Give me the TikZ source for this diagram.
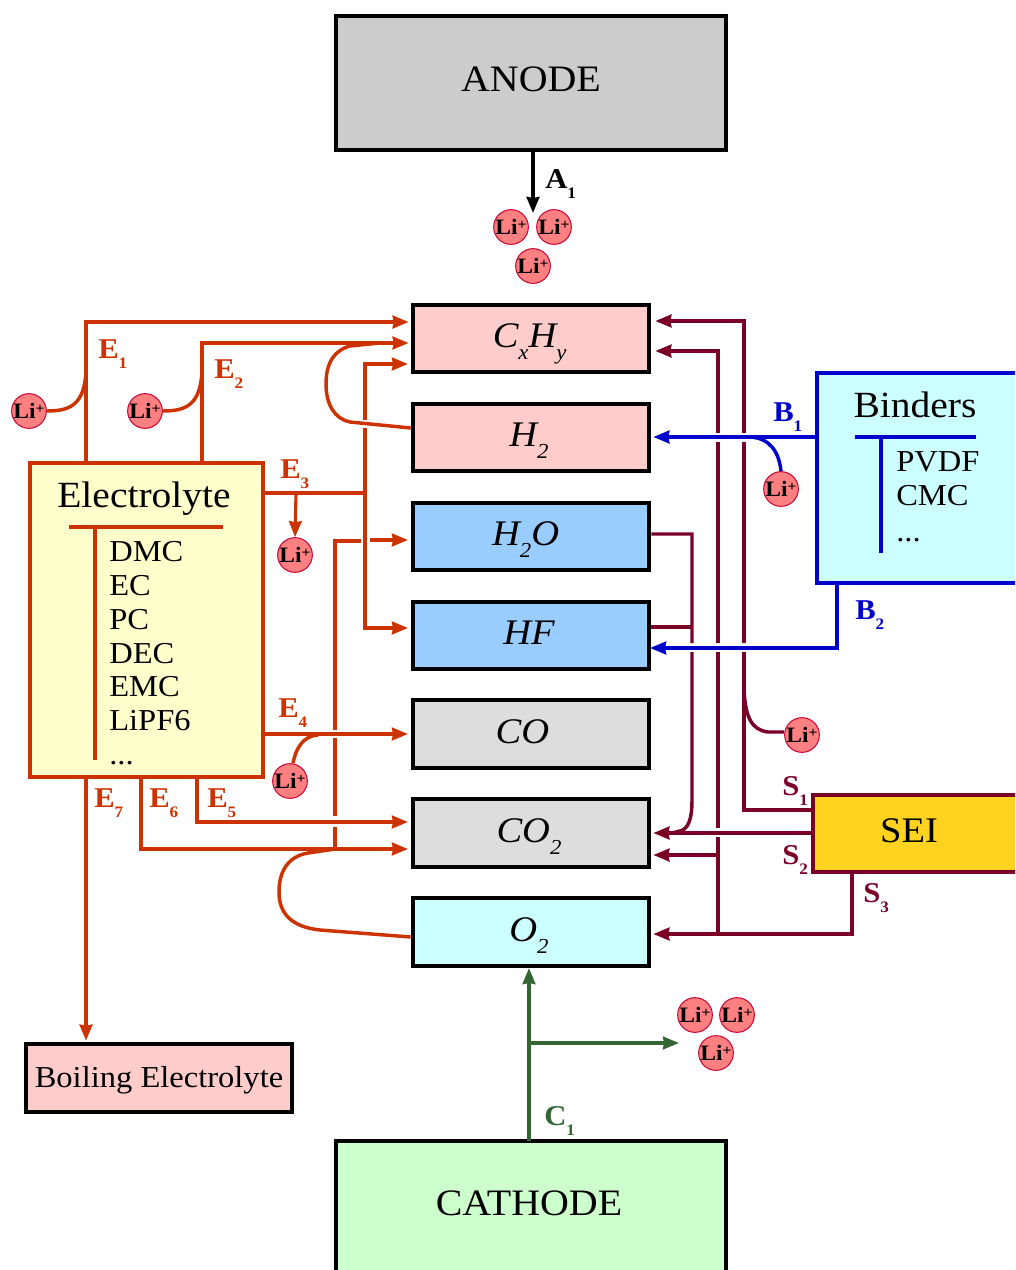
\documentclass[tikz,border=0pt]{standalone}
\usepackage{fontspec}
\setmainfont[FakeStretch=1.07]{Liberation Serif}
\usetikzlibrary{arrows.meta}
\definecolor{eorange}{HTML}{CC3300}
\definecolor{smaroon}{HTML}{7B0028}
\definecolor{bblue}{HTML}{0000CC}
\definecolor{cgreen}{HTML}{336633}
\definecolor{boxgrey}{HTML}{CCCCCC}
\definecolor{boxcath}{HTML}{CCFFCC}
\definecolor{boxpink}{HTML}{FFCCCC}
\definecolor{boxblue}{HTML}{99CCFF}
\definecolor{boxlight}{HTML}{DDDDDD}
\definecolor{boxcyan}{HTML}{CCFFFF}
\definecolor{boxyellow}{HTML}{FFFFCC}
\definecolor{boxsei}{HTML}{FFD320}
\definecolor{lifill}{HTML}{FF8080}
\definecolor{liedge}{HTML}{CC0033}
\newcommand{\lab}[2]{#1\raisebox{-7.5pt}{\fontsize{12pt}{12pt}\selectfont #2}}
\newcommand{\sbt}[1]{\raisebox{-9pt}{\fontsize{16pt}{16pt}\selectfont #1}}
\newcommand{\litext}{Li\raisebox{3.5pt}{\fontsize{11pt}{11pt}\selectfont +}}
\tikzset{
  x=0.75pt, y=-0.75pt,
  bigbox/.style={draw=black, line width=3pt, rectangle, inner sep=0pt, text height=14pt, text depth=0pt, font=\fontsize{28pt}{30pt}\selectfont},
  spec/.style={bigbox, minimum width=177.5pt, minimum height=50.5pt, font=\itshape\fontsize{27pt}{30pt}\selectfont, text height=14pt},
  libox/.style={circle, draw=liedge, line width=0.75pt, fill=lifill, minimum size=25.5pt, inner sep=0pt, font=\bfseries\fontsize{16.5pt}{17pt}\selectfont},
  words/.style={inner sep=0pt, anchor=base, font=\fontsize{27.7pt}{30pt}\selectfont},
  items/.style={inner sep=0pt, anchor=north west, align=left, font=\fontsize{22.8pt}{25.4pt}\selectfont},
  tag/.style={inner sep=0pt, anchor=base west, font=\bfseries\fontsize{21.5pt}{23pt}\selectfont},
  tip/.style={-{Stealth[length=12pt,width=9.5pt,inset=0.8pt]}},
  wire/.style={line width=2.6pt, line join=miter},
  thinwire/.style={line width=2.35pt},
  wiree/.style={wire, draw=eorange},
  wires/.style={wire, draw=smaroon},
  wireb/.style={wire, draw=bblue},
  wirec/.style={wire, draw=cgreen},
  wirek/.style={wire, draw=black},
  rule/.style={line width=2.3pt},
}
\begin{document}
\begin{tikzpicture}
\useasboundingbox (0,0) rectangle (1015,1270);
\clip (0,0) rectangle (1015,1270);
\fill[white] (0,0) rectangle (1015,1270);

% ---- main boxes
\node[bigbox, fill=boxgrey, minimum width=293pt, minimum height=100.5pt] (anode) at (531,83) {\raisebox{1pt}{ANODE}};
\node[bigbox, fill=boxcath, minimum width=293pt, minimum height=105pt] (cathode) at (531,1211) {\kern-1.5pt\raisebox{4pt}{CATHODE}\kern1.5pt};
\node[spec, fill=boxpink] (cxhy) at (531,338.5) {\kern-1pt C\sbt{x}H\sbt{y}\kern1pt};
\node[spec, fill=boxpink] (htwo) at (531,437.5) {\kern-1.5pt H\sbt{2}\kern1.5pt};
\node[spec, fill=boxblue] (water) at (531,536.5) {\kern-4pt H\sbt{2}O\kern4pt};
\node[spec, fill=boxblue] (hf) at (531,635.5) {\kern-1.5pt HF\kern1.5pt};
\node[spec, fill=boxlight] (co) at (531,734) {\kern-6.5pt CO\kern6.5pt};
\node[spec, fill=boxlight] (cotwo) at (531,833) {\kern-1.5pt CO\sbt{2}\kern1.5pt};
\node[spec, fill=boxcyan] (otwo) at (531,932) {\kern-1.5pt O\sbt{2}\kern1.5pt};
\node[bigbox, fill=boxpink, minimum width=200pt, minimum height=51pt, font=\fontsize{22.8pt}{25pt}\selectfont] (boil) at (159,1078) {Boiling Electrolyte};

% ---- electrolyte
\node[rectangle, draw=eorange, line width=3pt, fill=boxyellow, minimum width=174.5pt, minimum height=235.5pt, inner sep=0pt] (elec) at (146.5,620) {};
\node[words] (electitle) at (144,507) {Electrolyte};
\coordinate (elecrule) at (95,527);
\draw[eorange, rule] (69,527) -- (223,527);
\draw[eorange, rule] (elecrule) -- (95,760);
\node[items] (eleclist) at (109,541) {DMC\\EC\\PC\\DEC\\EMC\\LiPF6\\...};

% ---- binders
\node[rectangle, draw=bblue, line width=3pt, fill=boxcyan, minimum width=160pt, minimum height=157.5pt, inner sep=0pt] (bind) at (923.5,478) {};
\node[words] (bindtitle) at (915,417) {Binders};
\coordinate (bindrule) at (881,437);
\draw[bblue, rule] (855,437) -- (976,437);
\draw[bblue, rule] (bindrule) -- (881,553);
\node[items] (bindlist) at (896,451) {PVDF\\CMC\\[2pt]...};

% ---- SEI
\node[rectangle, draw=smaroon, line width=3pt, fill=boxsei, minimum width=163pt, minimum height=58pt, inner sep=0pt, text height=14pt, text depth=0pt, font=\fontsize{27pt}{30pt}\selectfont] (sei) at (921.5,833.5) {\kern-9.4pt SEI\kern9.4pt};

% ---- Li+ ions
\node[libox] (lia) at (511,227) {\litext};
\node[libox] (lib) at (554,227) {\litext};
\node[libox] (lic) at (533,266) {\litext};
\node[libox] (lie) at (29,411) {\litext};
\node[libox] (lif) at (145,411) {\litext};
\node[libox] (lig) at (295,555) {\litext};
\node[libox] (lih) at (290,781) {\litext};
\node[libox] (lii) at (781,489) {\litext};
\node[libox] (lij) at (802,735) {\litext};
\node[libox] (lik) at (695,1015) {\litext};
\node[libox] (lil) at (737,1015) {\litext};
\node[libox] (lim) at (716,1053) {\litext};

% ---- junction coordinates
\coordinate (eone) at (86,322);
\coordinate (etwo) at (202,343);
\coordinate (ethree) at (365,493);
\coordinate (ethreeup) at (365,364);
\coordinate (ethreedown) at (365,628);
\coordinate (ethreeli) at (296,493);
\coordinate (efour) at (263,734);
\coordinate (efive) at (197,822);
\coordinate (esix) at (141,849);
\coordinate (ewater) at (335,541);
\coordinate (ewaterbot) at (335,849);
\coordinate (ewaterin) at (370,540);
\coordinate (sone) at (744,321);
\coordinate (sonebot) at (744,810);
\coordinate (smid) at (718,351);
\coordinate (smidbot) at (718,934);
\coordinate (sthree) at (852,934);
\coordinate (swater) at (692,534);
\coordinate (bone) at (817,437);
\coordinate (btwo) at (837,648);
\coordinate (cjoin) at (529,1043);
\coordinate (aout) at (533,150);
\coordinate (atip) at (533,213);
\coordinate (cout) at (529,1141);
\coordinate (ctip) at (529,968);
\coordinate (cbranch) at (679,1043);
\coordinate (esevenout) at (86,777);
\coordinate (sfork) at (718,855);
\coordinate (stwo) at (813,833);

% ---- A1
\draw[wirek, tip] (aout) -- (atip);

% ---- electrolyte connectors
\draw[wiree, tip, shorten >=1.5pt] (eone |- elec.north) -- (eone) -- (eone -| cxhy.west);
\draw[wiree, tip, shorten >=1.5pt] (etwo |- elec.north) -- (etwo) -- (etwo -| cxhy.west);
\draw[wiree] (lie.east) .. controls (70,411) and (84,405) .. (86,372);
\draw[wiree] (lif.east) .. controls (186,411) and (200,405) .. (202,372);
\draw[wiree] (htwo.west |- 0,428) -- (350,422) .. controls (335,419) and (326,405) .. (326,384) .. controls (326,362) and (335,350) .. (350,346) -- (380,343);
\draw[wiree, thinwire] (ethree -| elec.east) -- (ethree);
\draw[wiree] (ethree) -- (365,428);
\draw[wiree, tip, shorten >=2pt] (365,420) -- (ethreeup) -- (ethreeup -| cxhy.west);
\draw[wiree, tip, shorten >=2pt] (ethree) -- (ethreedown) -- (ethreedown -| hf.west);
\draw[wiree, thinwire, tip] (ethreeli) -- (lig.north);
\draw[wiree, tip, shorten >=2pt] (efour) -- (efour -| co.west);
\draw[wiree] (lih.north) ++(3,0) .. controls (296,748) and (303,736) .. (318,735);
\draw[wiree, tip, shorten >=2pt] (efive |- elec.south) -- (efive) -- (efive -| cotwo.west);
\draw[wiree, tip, shorten >=2pt] (esix |- elec.south) -- (esix) -- (esix -| cotwo.west);
\draw[wiree, tip, shorten >=1pt] (esevenout) -- (esevenout |- boil.north);
\draw[wiree] (ewaterbot) -- (335,827) (335,816) -- (335,738) (335,730) -- (ewater) -- (361,541);
\draw[wiree, tip, shorten >=2pt] (ewaterin) -- (ewaterin -| water.west);
\draw[wiree] (otwo.west |- 0,937) -- (320,930) .. controls (292,927) and (279,914) .. (279,892) .. controls (279,869) and (290,856) .. (308,853) -- (335,849);

% ---- SEI connectors
\draw[wires] (sonebot -| sei.west) -- (sonebot) -- (744,652) (744,643) -- (744,442);
\draw[wires, tip, shorten >=3pt] (744,433) -- (sone) -- (sone -| cxhy.east);
\draw[wires] (smidbot) -- (718,837) (718,828) -- (718,652) (718,643) -- (718,442);
\draw[wires, tip, shorten >=3pt] (718,433) -- (smid) -- (smid -| cxhy.east);
\draw[wires, tip, shorten >=1.5pt] (sfork) -- (sfork -| cotwo.east);
\draw[wires, tip, shorten >=1.5pt] (stwo) -- (stwo -| cotwo.east);
\draw[wires, tip, shorten >=1.5pt] (sthree |- sei.south) -- (sthree) -- (sthree -| otwo.east);
\draw[wires] (swater -| water.east) -- (swater) -- (692,643) (692,652) -- (692,800) .. controls (692,820) and (688,829) .. (680,831) -- (672,833);
\draw[wires] (hf.east |- 0,627) -- (692,627);
\draw[wires] (lij.west) ++(0,-3) -- (768,732) .. controls (752,730) and (745,718) .. (744,688);

% ---- binder connectors
\draw[wireb, tip, shorten >=1.5pt] (bone) -- (bone -| htwo.east);
\draw[wireb] (lii.north) .. controls (779,452) and (770,438) .. (750,437) -- (735,437);
\draw[wireb, tip, shorten >=-1pt] (btwo |- bind.south) -- (btwo) -- (btwo -| hf.east);

% ---- cathode connectors
\draw[wirec, tip] (cout) -- (ctip);
\draw[wirec, thinwire, tip] (cjoin) -- (cbranch);

% ---- reference labels
\node[tag, text=black] (ta) at (545,188) {\lab{A}{1}};
\node[tag, text=eorange] (te) at (98,358) {\lab{E}{1}};
\node[tag, text=eorange] (tf) at (214,378) {\lab{E}{2}};
\node[tag, text=eorange] (tg) at (280,478) {\lab{E}{3}};
\node[tag, text=eorange] (th) at (278,717) {\lab{E}{4}};
\node[tag, text=eorange] (ti) at (207,807) {\lab{E}{5}};
\node[tag, text=eorange] (tj) at (149,807) {\lab{E}{6}};
\node[tag, text=eorange] (tk) at (94,807) {\lab{E}{7}};
\node[tag, text=bblue] (tb) at (773,421) {\lab{B}{1}};
\node[tag, text=bblue] (tc) at (855,619) {\lab{B}{2}};
\node[tag, text=smaroon] (ts) at (782,795) {\lab{S}{1}};
\node[tag, text=smaroon] (tt) at (782,864) {\lab{S}{2}};
\node[tag, text=smaroon] (tu) at (863,902) {\lab{S}{3}};
\node[tag, text=cgreen] (tv) at (544,1125) {\lab{C}{1}};
\end{tikzpicture}
\end{document}
